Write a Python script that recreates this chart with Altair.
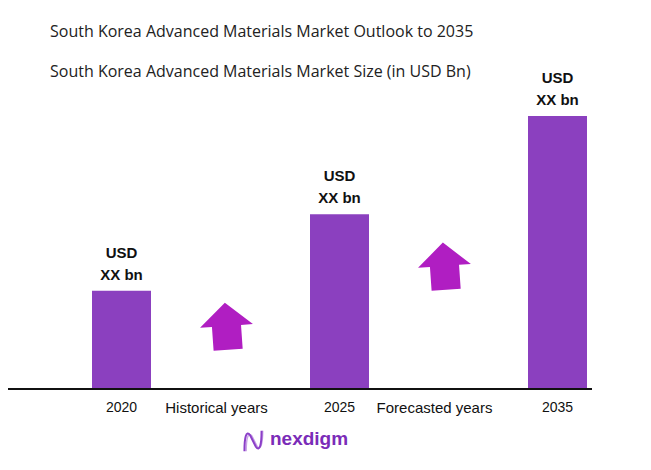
import altair as alt
import pandas as pd

# ---- data ----
categories = ["2020", "Historical years", "2025", "Forecasted years", "2035"]
bar_years = ["2020", "2025", "2035"]
bar_values = [36, 64, 100]          # relative sizes
label_line1 = ["USD", "USD", "USD"]
label_line2 = ["XX bn", "XX bn", "XX bn"]
period_labels = ["Historical years", "Forecasted years"]
arrow_levels = [23, 45]
baseline = [0]

title_text = "South Korea Advanced Materials Market Outlook to 2035"
subtitle_text = "South Korea Advanced Materials Market Size (in USD Bn)"
brand = ["nexdigm"]

bars_df = pd.DataFrame({"cat": bar_years, "value": bar_values,
                        "l1": label_line1, "l2": label_line2})
period_df = pd.DataFrame({"cat": period_labels, "level": arrow_levels})
base_df = pd.DataFrame({"v": baseline})
brand_df = pd.DataFrame({"name": brand})

BAR = "#8B40BF"
ARROW = "#B01EC2"
LOGO = "#7B2CB8"

xs = alt.Scale(type="point", domain=categories, range=[113.5, 549.5], padding=0)
ys = alt.Scale(domain=[0, 100], range=[301, 28])
X = alt.X("cat:N", scale=xs, axis=None)

bars = alt.Chart(bars_df).mark_bar(size=59, color=BAR).encode(
    x=X, y=alt.Y("value:Q", scale=ys, axis=None)
)

rule = alt.Chart(base_df).mark_rule(color="#111111", strokeWidth=2).encode(
    y=alt.Y("v:Q", scale=ys, axis=None),
    x=alt.value(-8), x2=alt.value(584)
)

lab1 = alt.Chart(bars_df).mark_text(
    dy=-38, fontSize=15, fontWeight="bold", font="Liberation Sans", color="#111111"
).encode(x=X, y=alt.Y("value:Q", scale=ys), text="l1:N")

lab2 = alt.Chart(bars_df).mark_text(
    dy=-16, fontSize=15, fontWeight="bold", font="Liberation Sans", color="#111111"
).encode(x=X, y=alt.Y("value:Q", scale=ys), text="l2:N")

year_txt = alt.Chart(bars_df).mark_text(
    dy=19, baseline="middle", fontSize=14, font="Liberation Sans", color="#111111"
).encode(x=X, y=alt.datum(0), text="cat:N")

period_txt = alt.Chart(period_df).mark_text(
    dy=19, dx=-14, baseline="middle", fontSize=15, font="Liberation Sans", color="#111111"
).encode(x=X, y=alt.datum(0), text="cat:N")

arrow_path = ("M 0 -0.89 L 1 -0.01 L 0.55 -0.01 L 0.55 0.89 "
              "L -0.55 0.89 L -0.55 -0.01 L -1 -0.01 Z")
arrows = alt.Chart(period_df).mark_point(
    shape=arrow_path, size=2809, filled=True, color=ARROW, opacity=1,
    angle=356
).encode(x=X, xOffset=alt.value(-4), y=alt.Y("level:Q", scale=ys))

logo_icon_a = alt.Chart(brand_df).mark_point(
    shape="M -0.75 0.9 C -0.75 -0.3 -0.6 -1 -0.25 -0.5 L 0.25 0.5 C 0.6 1 0.75 0.3 0.75 -0.9",
    size=520, filled=False, color="#8B3FC8", strokeWidth=2, opacity=1
).encode(x=alt.value(245), y=alt.value(353))
logo_icon_b = alt.Chart(brand_df).mark_point(
    shape="M -0.6 0.9 C -0.6 -0.1 -0.45 -0.9 -0.1 -0.45 L 0.35 0.45 C 0.7 0.95 0.85 0.1 0.85 -0.9",
    size=520, filled=False, color="#C9A3E6", strokeWidth=1.5, opacity=1
).encode(x=alt.value(245), y=alt.value(353))
logo_text = alt.Chart(brand_df).mark_text(
    align="left", baseline="middle", fontSize=19, fontWeight="bold",
    font="Liberation Sans", color=LOGO
).encode(x=alt.value(262), y=alt.value(351), text="name:N")

chart = alt.layer(
    bars, rule, lab1, lab2, year_txt, period_txt, arrows,
    logo_icon_b, logo_icon_a, logo_text
).properties(
    width=635, height=374,
    autosize=alt.AutoSizeParams(type="none"),
    padding={"left": 0, "top": 80, "right": 0, "bottom": 0},
    title=alt.TitleParams(
        text=title_text, subtitle=subtitle_text, anchor="start", frame="group",
        dx=42, offset=-9, font="Open Sans", fontSize=16, fontWeight="normal",
        color="#222222", subtitleFont="Open Sans", subtitleFontSize=16,
        subtitleColor="#222222", subtitlePadding=24
    )
).configure_view(stroke=None)

chart.save("out.html", embed_options={"renderer": "svg", "actions": False})
